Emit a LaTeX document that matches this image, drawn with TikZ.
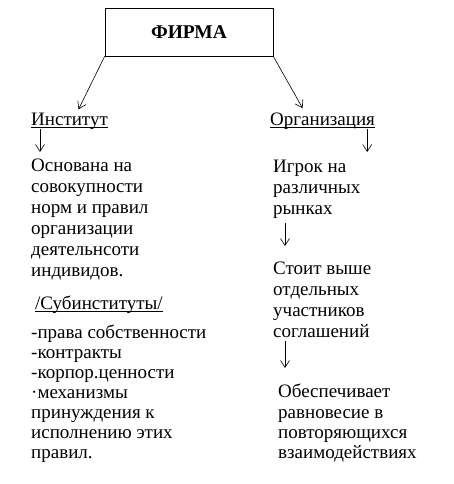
\documentclass[tikz,border=0pt]{standalone}
\usepackage{fontspec}
\setmainfont{Liberation Serif}
\usetikzlibrary{positioning, arrows.meta}
\newcommand{\undl}[1]{\setbox0\hbox{#1}\rlap{\vrule height -1.5pt depth 2.3pt width \wd0}\box0}

\begin{document}
\begin{tikzpicture}[x=1pt, y=-1pt,
        font=\fontsize{19}{21}\selectfont,
        txt/.style={anchor=north west, inner sep=0pt, align=left},
        arr/.style={-{Straight Barb[length=7pt, width=9pt]}, draw=black, line width=0.6pt}
    ]
    \useasboundingbox (0,0) rectangle (454,484);

    % Firm box
    \node[draw, line width=0.6pt, minimum width=168pt, minimum height=48pt, font=\fontsize{19.5}{21}\selectfont\bfseries] (firma) at (189,32) {ФИРМА};

    % Branch headings
    \node[inner sep=0pt, anchor=base west] (inst) at (31,125) {\undl{Институт}};
    \node[inner sep=0pt, anchor=base west] (org) at (270,125) {\undl{Организация}};
    \draw[arr] (firma.south west) -- ([xshift=9pt, yshift=3pt]inst.north);
    \draw[arr] (firma.south east) -- ([xshift=-20pt, yshift=4pt]org.north);

    % Institute column
    \node[txt] (osn) at (31,159) {Основана на\\совокупности\\норм и правил\\организации\\деятельнсоти\\индивидов.};
    \node[inner sep=0pt, anchor=base west] (sub) at (35,309) {\undl{/Субинституты/}};
    \node[txt, font=\fontsize{19}{20}\selectfont] (list) at (31,325) {-права собственности\\-контракты\\-корпор.ценности\\·механизмы\\принуждения к\\исполнению этих\\правил.};
    \draw[arr] ([xshift=9pt]inst.south west) -- ([xshift=9pt, yshift=7pt]inst.south west |- osn.north);

    % Organization column
    \node[txt] (igrok) at (273,160) {Игрок на\\различных\\рынках};
    \node[txt] (stoit) at (273,262) {Стоит выше\\отдельных\\участников\\соглашений};
    \node[txt, font=\fontsize{19}{20.3}\selectfont] (obesp) at (278,384) {Обеспечивает\\равновесие в\\повторяющихся\\взаимодействиях};
    \draw[arr] ([xshift=-8pt]org.south east) -- ([xshift=-8pt, yshift=8pt]org.south east |- igrok.north);
    \draw[arr] ([xshift=12pt, yshift=-4pt]igrok.south west) -- ([xshift=12pt, yshift=16pt]stoit.north west);
    \draw[arr] ([xshift=12pt, yshift=-3pt]stoit.south west) -- ([xshift=7pt, yshift=16pt]obesp.north west);
\end{tikzpicture}
\end{document}
